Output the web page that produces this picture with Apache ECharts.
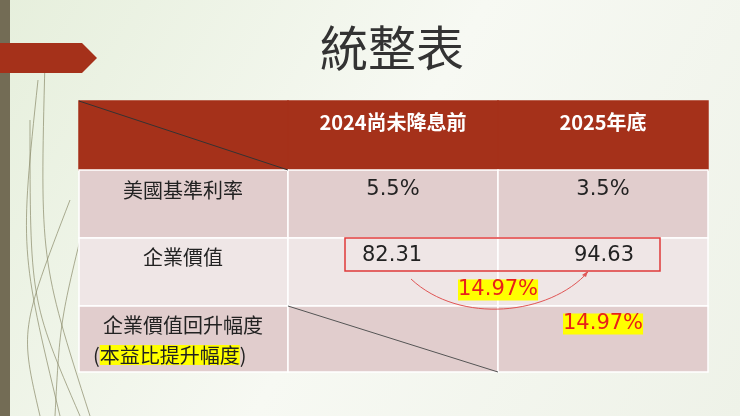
<!DOCTYPE html>
<html><head><meta charset="utf-8">
<script src="https://cdn.jsdelivr.net/npm/echarts@6/dist/echarts.min.js"></script>
<style>html,body{margin:0;padding:0}#main{width:740px;height:416px}</style>
</head><body><div id="main"></div>
<script>
// 統整表 data
var title = '統整表';
var headers = ['2024尚未降息前', '2025年底'];
var rowLabels = ['美國基準利率', '企業價值', '企業價值回升幅度'];
var rateValues = ['5.5%', '3.5%'];
var valueValues = ['82.31', '94.63'];
var growth = '14.97%';

var chart = echarts.init(document.getElementById('main'));
var FONT = '"Noto Sans CJK TC", sans-serif';
var colX = [79, 288, 498, 708];
var rowY = [101, 170, 238, 306, 372];
var g = [];

// background + left decoration
g.push({type: 'rect', shape: {x: 0, y: 0, width: 740, height: 416},
  style: {fill: new echarts.graphic.LinearGradient(0, 0, 1, 1, [{offset: 0, color: '#e6efdc'}, {offset: 0.5, color: '#f7f9f3'}, {offset: 1, color: '#eef2e8'}])}});
var curves = [[38, 80, 20, 250, 60, 416], [30, 120, 30, 300, 80, 416], [70, 200, 20, 330, 40, 416], [45, 60, 40, 260, 90, 416], [90, 200, 60, 320, 55, 416]];
curves.forEach(function (c) {
  g.push({type: 'bezierCurve', shape: {x1: c[0], y1: c[1], cpx1: c[2], cpy1: c[3], cpx2: c[2], cpy2: c[3], x2: c[4], y2: c[5]},
    style: {stroke: '#8a8a6a', lineWidth: 1, fill: null, opacity: 0.7}});
});
g.push({type: 'rect', shape: {x: 0, y: 0, width: 10, height: 416}, style: {fill: '#736c55'}});
g.push({type: 'polygon', shape: {points: [[0, 43], [82, 43], [97, 58], [82, 73], [0, 73]]}, style: {fill: '#a5311a'}});

g.push({type: 'text', x: 392, y: 48, style: {text: title, font: '48px ' + FONT, fill: '#333', align: 'center', verticalAlign: 'middle'}});

// table cells
var fills = ['#a5311a', '#e1cdcd', '#efe6e6', '#e1cdcd'];
for (var r = 0; r < 4; r++) {
  for (var c = 0; c < 3; c++) {
    g.push({type: 'rect', shape: {x: colX[c], y: rowY[r], width: colX[c + 1] - colX[c], height: rowY[r + 1] - rowY[r]},
      style: {fill: fills[r], stroke: r === 0 ? '#a5311a' : '#fff', lineWidth: 1.5}});
  }
}
g.push({type: 'line', shape: {x1: colX[0], y1: rowY[0], x2: colX[1], y2: rowY[1]}, style: {stroke: '#333', lineWidth: 1}});
g.push({type: 'line', shape: {x1: colX[1], y1: rowY[3], x2: colX[2], y2: rowY[4]}, style: {stroke: '#555', lineWidth: 1}});
headers.forEach(function (h, i) {
  g.push({type: 'text', x: (colX[i + 1] + colX[i + 2]) / 2, y: 122, style: {text: h, font: 'bold 20px ' + FONT, fill: '#fff', align: 'center', verticalAlign: 'middle'}});
});
g.push({type: 'text', x: 183, y: 190, style: {text: rowLabels[0], font: '20px ' + FONT, fill: '#222', align: 'center', verticalAlign: 'middle'}});
g.push({type: 'text', x: 183, y: 257, style: {text: rowLabels[1], font: '20px ' + FONT, fill: '#222', align: 'center', verticalAlign: 'middle'}});
g.push({type: 'text', x: 183, y: 325, style: {text: rowLabels[2], font: '20px ' + FONT, fill: '#222', align: 'center', verticalAlign: 'middle'}});
g.push({type: 'text', x: 93, y: 355, style: {
  text: '({h|本益比提升幅度})', font: '20px ' + FONT, fill: '#222', verticalAlign: 'middle',
  rich: {h: {backgroundColor: '#ffff00', font: '20px ' + FONT, fill: '#222'}}}});
rateValues.forEach(function (v, i) {
  g.push({type: 'text', x: (colX[i + 1] + colX[i + 2]) / 2, y: 190, style: {text: v, font: '21px "DejaVu Sans", sans-serif', fill: '#222', align: 'center', verticalAlign: 'middle'}});
});
g.push({type: 'text', x: 362, y: 256, style: {text: valueValues[0], font: '21px "DejaVu Sans", sans-serif', fill: '#222', verticalAlign: 'middle'}});
g.push({type: 'text', x: 634, y: 256, style: {text: valueValues[1], font: '21px "DejaVu Sans", sans-serif', fill: '#222', align: 'right', verticalAlign: 'middle'}});
g.push({type: 'rect', shape: {x: 345, y: 238, width: 315, height: 33}, style: {fill: null, stroke: '#e03a3a', lineWidth: 1.5}});
g.push({type: 'bezierCurve', shape: {x1: 411, y1: 279, cpx1: 460, cpy1: 325, cpx2: 550, cpy2: 315, x2: 588, y2: 272},
  style: {stroke: '#e05555', lineWidth: 1, fill: null}});
g.push({type: 'polygon', shape: {points: [[588, 271], [582, 275], [586, 277]]}, style: {fill: '#e05555'}});
g.push({type: 'text', x: 458, y: 290, style: {text: growth, font: '21px "DejaVu Sans", sans-serif', fill: '#e8201a', backgroundColor: '#ffff00', verticalAlign: 'middle'}});
g.push({type: 'text', x: 563, y: 324, style: {text: growth, font: '21px "DejaVu Sans", sans-serif', fill: '#e8201a', backgroundColor: '#ffff00', verticalAlign: 'middle'}});

chart.setOption({animation: false, graphic: {elements: g}});
</script>
</body></html>
